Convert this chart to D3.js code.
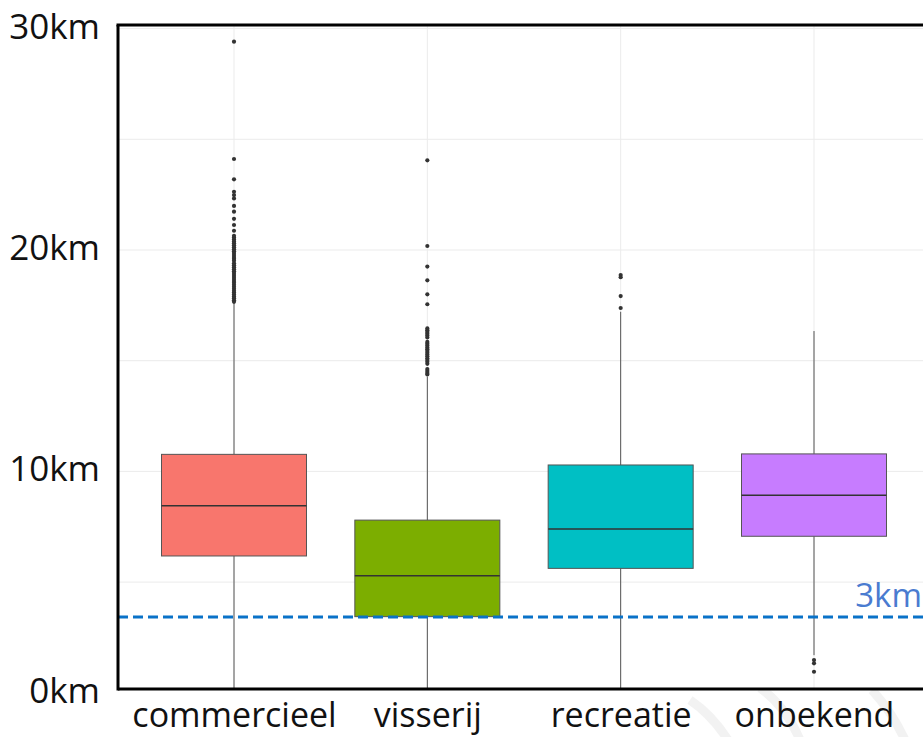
<!DOCTYPE html>
<html><head><meta charset="utf-8">
<script src="https://cdn.jsdelivr.net/npm/d3@7"></script>
<style>
html,body{margin:0;padding:0;background:#fff;overflow:hidden}
svg{display:block;font-family:"Open Sans",Lato,sans-serif}
</style></head>
<body>
<svg id="chart" width="923" height="737"></svg>
<script>
const categories = ["commercieel", "visserij", "recreatie", "onbekend"];
const colors = ["#F8766D", "#7CAE00", "#00BFC4", "#C77CFF"];
const q1Values = [6.18, 3.44, 5.62, 7.07];
const medianValues = [8.45, 5.29, 7.40, 8.92];
const q3Values = [10.77, 7.80, 10.29, 10.79];
const whiskerLow = [0, 0, 0, 1.7];
const whiskerHigh = [17.6, 14.28, 17.21, 16.34];
const commercieelOutliers = [29.41, 24.11, 23.19, 22.63, 22.48, 22.33, 21.99, 21.73, 21.41, 21.13, 20.87,
  20.64, 20.56, 20.47, 20.38, 20.3, 20.21, 20.12, 20.03, 19.94, 19.86, 19.77, 19.68, 19.6, 19.52,
  19.4, 19.31, 19.22, 19.13, 19.04, 18.96, 18.87, 18.78, 18.69, 18.6, 18.52, 18.43, 18.34, 18.25,
  18.16, 18.08, 17.99, 17.9, 17.82, 17.73, 17.66];
const visserijOutliers = [24.05, 20.18, 19.25, 18.63, 18.0, 17.55, 16.46, 16.38, 16.3, 16.22, 16.14, 16.05,
  15.85, 15.77, 15.69, 15.6, 15.52, 15.44, 15.36, 15.28, 15.2, 15.11, 15.03, 14.95, 14.86,
  14.62, 14.54, 14.45, 14.38];
const recreatieOutliers = [18.87, 18.77, 17.92, 17.38];
const onbekendOutliers = [1.48, 1.33, 0.95];
const outliers = [commercieelOutliers, visserijOutliers, recreatieOutliers, onbekendOutliers];
const yTicks = [0, 10, 20, 30];
const yGrid = [0, 5, 10, 15, 20, 25, 30];
const refValue = 3.42;
const refLabel = "3km";

const svg = d3.select("#chart");
const W = 923, H = 737;
const plotLeft = 118, plotRight = 930, plotTop = 25, plotBottom = 689;

const x = d3.scalePoint().domain(categories).range([plotLeft, plotRight]).padding(0.6);
const y = d3.scaleLinear().domain([0, 30]).range([692.8, 28.6]);
const boxW = x.step() * 0.75;

// faint watermark arcs (background decoration)
const wm = svg.append("g").attr("fill", "none").attr("stroke", "#f2f2f2").attr("stroke-width", 9);
wm.append("path").attr("d", "M690,700 Q712,715 728,740");
wm.append("path").attr("d", "M760,688 Q785,705 800,740");
wm.append("path").attr("d", "M872,690 Q892,712 905,740");

const defs = svg.append("defs");
defs.append("clipPath").attr("id", "clip").append("rect")
  .attr("x", plotLeft).attr("y", plotTop).attr("width", plotRight - plotLeft).attr("height", plotBottom - plotTop);

const g = svg.append("g").attr("clip-path", "url(#clip)");
g.append("rect").attr("x", plotLeft).attr("y", plotTop).attr("width", plotRight - plotLeft)
  .attr("height", plotBottom - plotTop).attr("fill", "#fff");

// grid
g.selectAll(".hg").data(yGrid).enter().append("line")
  .attr("x1", plotLeft).attr("x2", plotRight)
  .attr("y1", d => y(d)).attr("y2", d => y(d))
  .attr("stroke", "#ebebeb").attr("stroke-width", 1);
g.selectAll(".vg").data(categories).enter().append("line")
  .attr("x1", d => x(d)).attr("x2", d => x(d))
  .attr("y1", plotTop).attr("y2", plotBottom)
  .attr("stroke", "#ebebeb").attr("stroke-width", 1);

// boxes
categories.forEach((c, i) => {
  const cx = x(c);
  g.append("line").attr("x1", cx).attr("x2", cx)
    .attr("y1", y(q3Values[i])).attr("y2", y(whiskerHigh[i]))
    .attr("stroke", "#555").attr("stroke-width", 1);
  g.append("line").attr("x1", cx).attr("x2", cx)
    .attr("y1", y(q1Values[i])).attr("y2", y(whiskerLow[i]))
    .attr("stroke", "#555").attr("stroke-width", 1);
  g.append("rect")
    .attr("x", cx - boxW / 2).attr("width", boxW)
    .attr("y", y(q3Values[i])).attr("height", y(q1Values[i]) - y(q3Values[i]))
    .attr("fill", colors[i]).attr("stroke", "#555").attr("stroke-width", 1);
  g.append("line").attr("x1", cx - boxW / 2).attr("x2", cx + boxW / 2)
    .attr("y1", y(medianValues[i])).attr("y2", y(medianValues[i]))
    .attr("stroke", "#333").attr("stroke-width", 1.6);
  g.selectAll(".o" + i).data(outliers[i]).enter().append("circle")
    .attr("cx", cx).attr("cy", d => y(d)).attr("r", 2.1).attr("fill", "#333");
});

// reference line
g.append("line").attr("x1", plotLeft).attr("x2", plotRight)
  .attr("y1", y(refValue)).attr("y2", y(refValue))
  .attr("stroke", "#0a72c8").attr("stroke-width", 3).attr("stroke-dasharray", "10,5");
svg.append("text").attr("x", 922).attr("y", y(refValue) - 10)
  .attr("text-anchor", "end").attr("font-size", 33).attr("fill", "#4a7bd0")
  .attr("font-family", "'Open Sans', sans-serif").text(refLabel);

// panel borders
svg.append("line").attr("x1", plotLeft - 1.5).attr("x2", W).attr("y1", plotTop).attr("y2", plotTop)
  .attr("stroke", "#000").attr("stroke-width", 3);
svg.append("line").attr("x1", plotLeft).attr("x2", plotLeft).attr("y1", plotTop).attr("y2", plotBottom + 1.5)
  .attr("stroke", "#000").attr("stroke-width", 3);
svg.append("line").attr("x1", plotLeft).attr("x2", W).attr("y1", plotBottom).attr("y2", plotBottom)
  .attr("stroke", "#000").attr("stroke-width", 3);

// y axis labels
const yAxis = d3.axisLeft(y).tickValues(yTicks).tickFormat(d => d + "km").tickSize(0).tickPadding(18);
const ya = svg.append("g").attr("transform", `translate(${plotLeft},0)`).call(yAxis);
ya.select(".domain").remove();
ya.selectAll("text").attr("font-size", 35).attr("fill", "#111").attr("font-family", "'Open Sans', sans-serif")
  .attr("dy", null).attr("transform", "translate(0,9.5)");

// x axis labels
const xAxis = d3.axisBottom(x).tickSize(0).tickPadding(0);
const xa = svg.append("g").attr("transform", `translate(0,${plotBottom})`).call(xAxis);
xa.select(".domain").remove();
xa.selectAll("text").attr("font-size", 34).attr("fill", "#111").attr("font-family", "'Open Sans', sans-serif")
  .attr("dy", null).attr("y", 38);
</script>
</body></html>
